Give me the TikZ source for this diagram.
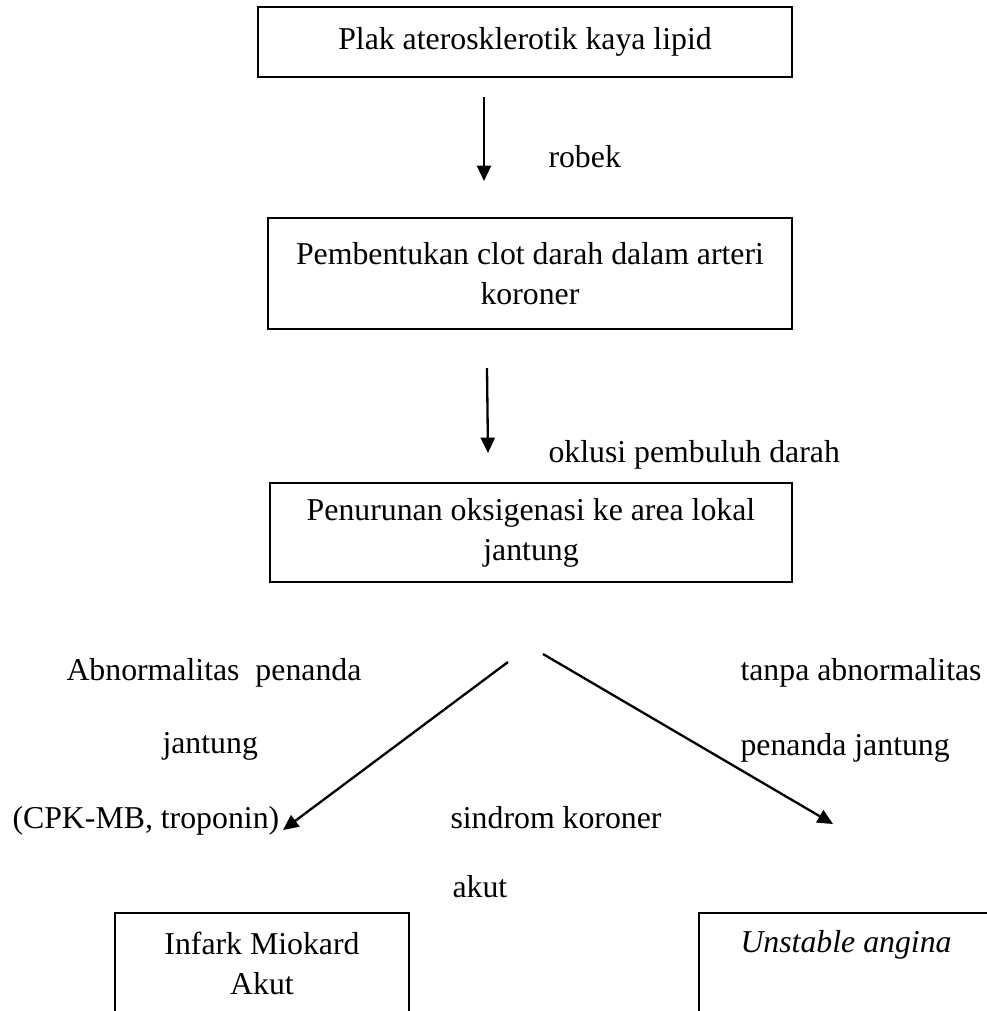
\documentclass[tikz,border=0pt]{standalone}
\usepackage{fontspec}
\setmainfont{Liberation Serif}
\usetikzlibrary{arrows.meta}

\begin{document}
\begin{tikzpicture}[x=0.39pt, y=-0.39pt,
    every node/.style={font=\fontsize{12.4}{15.6}\selectfont},
    kotak/.style={draw, line width=0.9pt, align=center, inner sep=0pt},
    panah/.style={-{Triangle[length=6pt, width=5.5pt]}, line width=0.9pt},
    teks/.style={anchor=base west, inner sep=0pt}]
        \useasboundingbox (0,0) rectangle (987,1011);
        \clip (0,0) rectangle (987,1011);

        \node[kotak, minimum width=208.3pt, minimum height=27.3pt] (plak) at (525,42) {Plak aterosklerotik kaya lipid};
        \node[kotak, minimum width=204.4pt, minimum height=43.3pt] (clot) at (530,273.5) {Pembentukan clot darah dalam arteri\\koroner};
        \node[kotak, minimum width=203.6pt, minimum height=38.6pt] (oksi) at (531,532.5) {Penurunan oksigenasi ke area lokal\\jantung};

        \node[kotak, minimum width=114.7pt, minimum height=78pt] (ima) at (262,1013) {};
        \node[kotak, minimum width=115.4pt, minimum height=78pt] (ua) at (847,1013) {};
        \node[align=center, anchor=north, inner sep=0pt] (imatxt) at (262,932) {Infark Miokard\\Akut};
        \node[teks] (uatxt) at (740,952) {\itshape Unstable angina};

        \coordinate (r1a) at (484,97);
        \coordinate (r1b) at (484,181);
        \coordinate (r2a) at (487,368);
        \coordinate (r2b) at (488,453);
        \coordinate (kiri0) at (508,662);
        \coordinate (kiri1) at (283,830);
        \coordinate (kanan0) at (543,654);
        \coordinate (kanan1) at (833,824);

        \draw[panah] (r1a) -- (r1b);
        \draw[panah] (r2a) -- (r2b);
        \draw[panah] (kiri0) -- (kiri1);
        \draw[panah] (kanan0) -- (kanan1);

        \node[teks] (robek) at (548,167) {robek};
        \node[teks] (oklusi) at (548,462) {oklusi pembuluh darah};
        \node[teks] (abn) at (66,680) {Abnormalitas\ \ penanda};
        \node[teks] (jant) at (162,753) {jantung};
        \node[teks] (cpk) at (12,828) {(CPK-MB, troponin)};
        \node[teks] (sindrom) at (450,828) {sindrom koroner};
        \node[teks] (akut) at (452,897) {akut};
        \node[teks] (tanpa) at (740,680) {tanpa abnormalitas};
        \node[teks] (penanda) at (740,755) {penanda jantung};
\end{tikzpicture}
\end{document}
